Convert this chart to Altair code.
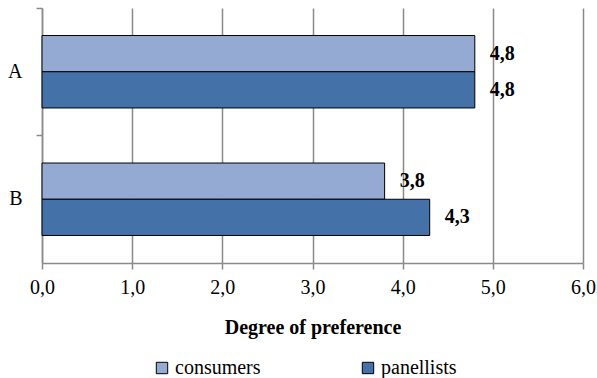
import altair as alt
import pandas as pd

# Preference scores by product and panel
products = ["A", "A", "B", "B"]
groups = ["consumers", "panellists", "consumers", "panellists"]
scores = [4.8, 4.8, 3.8, 4.3]

series_order = ["consumers", "panellists"]
series_colors = ["#95AAD2", "#4472A8"]

df = pd.DataFrame({"product": products, "group": groups, "score": scores})

font = "Liberation Serif"
axis_grey = "#8a8a8a"

base = alt.Chart(df).encode(
    y=alt.Y(
        "product:N",
        scale=alt.Scale(paddingInner=0, paddingOuter=0),
        axis=alt.Axis(
            title=None,
            bandPosition=0,
            labelPadding=14,
            tickSize=6,
            grid=False,
        ),
    ),
    yOffset=alt.YOffset(
        "group:N",
        sort=series_order,
        scale=alt.Scale(paddingInner=0, paddingOuter=0.76),
    ),
)

bars = base.mark_bar(stroke="black", strokeWidth=1).encode(
    x=alt.X(
        "score:Q",
        scale=alt.Scale(domain=[0, 6], nice=False),
        axis=alt.Axis(
            title="Degree of preference",
            values=[0, 1, 2, 3, 4, 5, 6],
            labelExpr="replace(format(datum.value, '.1f'), '.', ',')",
            labelFlush=False,
            labelPadding=8,
            titleFontWeight="bold",
            titlePadding=20,
            tickSize=6,
            grid=True,
            gridColor=axis_grey,
            gridWidth=1.5,
        ),
    ),
    color=alt.Color(
        "group:N",
        sort=series_order,
        scale=alt.Scale(domain=series_order, range=series_colors),
        legend=alt.Legend(
            title=None,
            orient="none",
            direction="horizontal",
            legendX=110,
            legendY=350,
            symbolType="square",
            symbolSize=130,
            symbolStrokeColor="black",
            symbolStrokeWidth=1,
            labelOffset=3,
            columnPadding=97,
        ),
    ),
)

labels = base.transform_calculate(
    label="replace(format(datum.score, '.1f'), '.', ',')"
).mark_text(
    align="left", baseline="middle", dx=15, fontSize=20,
    fontWeight="bold", color="black",
).encode(x="score:Q", text="label:N")

chart = (
    alt.layer(bars, labels)
    .properties(
        width=541,
        height=255,
        autosize=alt.AutoSizeParams(type="none"),
        padding={"left": 42, "top": 8, "right": 14, "bottom": 115},
        background="white",
    )
    .configure(font=font)
    .configure_view(stroke=None)
    .configure_axis(
        labelFont=font,
        labelFontSize=20,
        labelColor="black",
        titleFont=font,
        titleFontSize=20,
        titleColor="black",
        tickColor=axis_grey,
        tickWidth=1.5,
        domainColor=axis_grey,
        domainWidth=1.5,
    )
    .configure_legend(labelFont=font, labelFontSize=20, labelColor="black")
    .configure_text(font=font)
)

chart.save("out.html", embed_options={"renderer": "svg", "actions": False})
